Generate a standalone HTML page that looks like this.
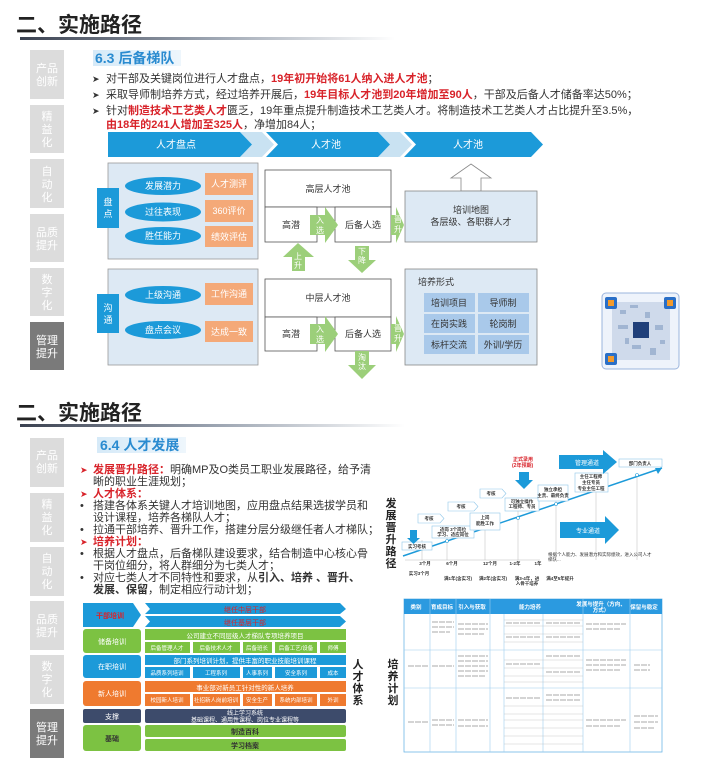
<!DOCTYPE html>
<html><head><meta charset="utf-8"><style>
html,body{margin:0;padding:0;background:#fff;}
svg{display:block;}
text{font-family:"Liberation Sans","Noto Sans CJK SC",sans-serif;}
</style></head><body>
<svg width="703" height="779" viewBox="0 0 703 779" xmlns="http://www.w3.org/2000/svg">
<defs>
<linearGradient id="ul" x1="0" x2="1"><stop offset="0" stop-color="#3a4150"/><stop offset="0.5" stop-color="#9aa3b0"/><stop offset="1" stop-color="#fff"/></linearGradient>
<linearGradient id="lb" x1="0" x2="1"><stop offset="0" stop-color="#d6eaf8"/><stop offset="1" stop-color="#eef6fc"/></linearGradient>
</defs>

<!-- ===== TOP PANEL ===== -->
<text x="16" y="32" font-size="21" font-weight="bold" fill="#222">二、实施路径</text>
<rect x="20" y="37" width="375" height="3" fill="url(#ul)"/>

<g font-size="11" fill="#fff" text-anchor="middle">
<rect x="30" y="50" width="34" height="49" fill="#dcdcdc"/><text x="47" y="72">产品</text><text x="47" y="85">创新</text>
<rect x="30" y="105" width="34" height="48" fill="#dcdcdc"/><text x="47" y="120">精</text><text x="47" y="133">益</text><text x="47" y="146">化</text>
<rect x="30" y="159" width="34" height="49" fill="#dcdcdc"/><text x="47" y="175">自</text><text x="47" y="188">动</text><text x="47" y="201">化</text>
<rect x="30" y="214" width="34" height="48" fill="#dcdcdc"/><text x="47" y="236">品质</text><text x="47" y="249">提升</text>
<rect x="30" y="268" width="34" height="48" fill="#dcdcdc"/><text x="47" y="283">数</text><text x="47" y="296">字</text><text x="47" y="309">化</text>
<rect x="30" y="322" width="34" height="48" fill="#7a7a7a"/><text x="47" y="344">管理</text><text x="47" y="357">提升</text>
</g>

<rect x="93" y="50" width="88" height="16" fill="url(#lb)"/>
<text x="95" y="63" font-size="14" font-weight="bold" fill="#2a8bd0">6.3 后备梯队</text>

<g font-size="11" fill="#333">
<text x="92" y="82" font-size="9">➤</text>
<text x="106" y="82">对干部及关键岗位进行人才盘点，<tspan fill="#d8232a" font-weight="bold">19年初开始将61人纳入进人才池</tspan>；</text>
<text x="92" y="98" font-size="9">➤</text>
<text x="106" y="98">采取导师制培养方式，经过培养开展后，<tspan fill="#d8232a" font-weight="bold">19年目标人才池到20年增加至90人</tspan>，干部及后备人才储备率达50%；</text>
<text x="92" y="114" font-size="9">➤</text>
<text x="106" y="114">针对<tspan fill="#d8232a" font-weight="bold">制造技术工艺类人才</tspan>匮乏，19年重点提升制造技术工艺类人才。将制造技术工艺类人才占比提升至3.5%，</text>
<text x="106" y="128"><tspan fill="#d8232a" font-weight="bold">由18年的241人增加至325人</tspan>，净增加84人；</text>
</g>

<!-- chevron bar -->
<polygon points="240,132 262,132 274,144.5 262,157 240,157 252,144.5" fill="#c9e2f2"/>
<polygon points="378,132 400,132 412,144.5 400,157 378,157 390,144.5" fill="#c9e2f2"/>
<polygon points="108,132 240,132 252,144.5 240,157 108,157" fill="#1c9ad9"/>
<polygon points="266,132 378,132 390,144.5 378,157 266,157 278,144.5" fill="#1c9ad9"/>
<polygon points="404,132 531,132 543,144.5 531,157 404,157 416,144.5" fill="#1c9ad9"/>
<g font-size="10" fill="#fff" text-anchor="middle"><text x="176" y="148">人才盘点</text><text x="326" y="148">人才池</text><text x="468" y="148">人才池</text></g>

<!-- left boxes -->
<rect x="108" y="163" width="150" height="96" fill="#dde9f4" stroke="#999" stroke-width="0.8"/>
<rect x="108" y="269" width="150" height="96" fill="#dde9f4" stroke="#999" stroke-width="0.8"/>
<rect x="97" y="188" width="22" height="40" fill="#1c9ad9"/>
<text x="108" y="205" font-size="9" fill="#fff" text-anchor="middle">盘</text><text x="108" y="217" font-size="9" fill="#fff" text-anchor="middle">点</text>
<rect x="97" y="294" width="22" height="39" fill="#1c9ad9"/>
<text x="108" y="311" font-size="9" fill="#fff" text-anchor="middle">沟</text><text x="108" y="323" font-size="9" fill="#fff" text-anchor="middle">通</text>
<g fill="#1c9ad9">
<ellipse cx="163" cy="186" rx="38" ry="9"/><ellipse cx="163" cy="212" rx="38" ry="9.5"/><ellipse cx="163" cy="236" rx="38" ry="9"/>
<ellipse cx="163" cy="295" rx="38" ry="9"/><ellipse cx="163" cy="330" rx="38" ry="9"/>
</g>
<g fill="#f4a978">
<rect x="205" y="173" width="48" height="22"/><rect x="205" y="200" width="48" height="22"/><rect x="205" y="226" width="48" height="21"/>
<rect x="205" y="283" width="48" height="22"/><rect x="205" y="321" width="48" height="21"/>
</g>
<g font-size="9" fill="#fff" text-anchor="middle">
<text x="163" y="189">发展潜力</text><text x="163" y="215">过往表现</text><text x="163" y="239">胜任能力</text>
<text x="163" y="298">上级沟通</text><text x="163" y="333">盘点会议</text>
<text x="229" y="187">人才测评</text><text x="229" y="214">360评价</text><text x="229" y="240">绩效评估</text>
<text x="229" y="297">工作沟通</text><text x="229" y="335">达成一致</text>
</g>

<!-- middle pools -->
<g fill="#fff" stroke="#555" stroke-width="0.8">
<rect x="265" y="170" width="126" height="37"/><rect x="265" y="207" width="52" height="35"/><rect x="335" y="207" width="56" height="35"/>
<rect x="265" y="279" width="126" height="38"/><rect x="265" y="317" width="52" height="34"/><rect x="335" y="317" width="56" height="34"/>
</g>
<g font-size="9" fill="#333" text-anchor="middle">
<text x="328" y="192">高层人才池</text><text x="291" y="228">高潜</text><text x="363" y="228">后备人选</text>
<text x="328" y="301">中层人才池</text><text x="291" y="337">高潜</text><text x="363" y="337">后备人选</text>
</g>
<g fill="#9ccf7a">
<polygon points="310,215 325,215 325,207 338,225 325,243 325,235 310,235"/>
<polygon points="391,215 396,215 396,207 404,225 396,243 396,235 391,235"/>
<polygon points="310,324 325,324 325,316 338,334 325,352 325,344 310,344"/>
<polygon points="391,324 396,324 396,316 404,334 396,352 396,344 391,344"/>
<polygon points="298,243 314,257 305,257 305,271 292,271 292,257 283,257"/>
<polygon points="355,246 369,246 369,260 376,260 362,273 348,260 355,260"/>
<polygon points="355,351 369,351 369,365 376,365 362,379 348,365 355,365"/>
</g>
<g font-size="8" fill="#fff" text-anchor="middle">
<text x="320" y="223">入</text><text x="320" y="233">选</text>
<text x="398" y="222">晋</text><text x="398" y="232">升</text>
<text x="320" y="332">入</text><text x="320" y="342">选</text>
<text x="398" y="331">晋</text><text x="398" y="341">升</text>
<text x="298" y="259">上</text><text x="298" y="268">升</text>
<text x="362" y="254">下</text><text x="362" y="263">降</text>
<text x="362" y="360">淘</text><text x="362" y="369">汰</text>
</g>

<!-- right boxes -->
<polygon points="471,164 491,178 481,178 481,191 461,191 461,178 451,178" fill="#fff" stroke="#888" stroke-width="0.8"/>
<rect x="405" y="191" width="132" height="51" fill="#dde9f4" stroke="#888" stroke-width="0.8"/>
<text x="471" y="213" font-size="9" fill="#333" text-anchor="middle">培训地图</text>
<text x="471" y="225" font-size="9" fill="#333" text-anchor="middle">各层级、各职群人才</text>
<rect x="405" y="269" width="132" height="96" fill="#dde9f4" stroke="#888" stroke-width="0.8"/>
<text x="418" y="285" font-size="9" fill="#333">培养形式</text>
<g fill="#a9c9ea">
<rect x="424" y="293" width="51" height="19"/><rect x="478" y="293" width="51" height="19"/>
<rect x="424" y="314" width="51" height="19"/><rect x="478" y="314" width="51" height="19"/>
<rect x="424" y="335" width="51" height="19"/><rect x="478" y="335" width="51" height="19"/>
</g>
<g font-size="9" fill="#333" text-anchor="middle">
<text x="449" y="306">培训项目</text><text x="503" y="306">导师制</text>
<text x="449" y="327">在岗实践</text><text x="503" y="327">轮岗制</text>
<text x="449" y="348">标杆交流</text><text x="503" y="348">外训/学历</text>
</g>

<!-- QR -->
<rect x="602" y="293" width="77" height="76" rx="4" fill="#eef3fb" stroke="#9bb4dd"/>
<g fill="#8fa6c8" opacity="0.8">
<rect x="612" y="302" width="58" height="58" fill="#c8d4e8"/>
<rect x="620" y="310" width="6" height="4"/><rect x="630" y="305" width="8" height="3"/><rect x="645" y="312" width="5" height="6"/>
<rect x="618" y="325" width="10" height="4"/><rect x="655" y="325" width="8" height="5"/><rect x="632" y="345" width="9" height="4"/>
<rect x="650" y="348" width="6" height="7"/><rect x="625" y="338" width="4" height="6"/><rect x="660" y="340" width="5" height="4"/>
</g>
<rect x="605" y="297" width="12" height="12" rx="2" fill="#2a6fc7"/><rect x="608" y="300" width="6" height="6" fill="#f39a2b"/>
<rect x="664" y="297" width="12" height="12" rx="2" fill="#2a6fc7"/><rect x="667" y="300" width="6" height="6" fill="#f39a2b"/>
<rect x="605" y="353" width="12" height="12" rx="2" fill="#2a6fc7"/><rect x="608" y="356" width="6" height="6" fill="#f39a2b"/>
<rect x="633" y="322" width="16" height="16" fill="#1f3f7a"/>

<!-- ===== BOTTOM PANEL ===== -->
<text x="16" y="420" font-size="21" font-weight="bold" fill="#222">二、实施路径</text>
<rect x="20" y="424" width="385" height="3" fill="url(#ul)"/>

<g font-size="11" fill="#fff" text-anchor="middle">
<rect x="30" y="438" width="34" height="49" fill="#dcdcdc"/><text x="47" y="459">产品</text><text x="47" y="472">创新</text>
<rect x="30" y="493" width="34" height="49" fill="#dcdcdc"/><text x="47" y="508">精</text><text x="47" y="521">益</text><text x="47" y="534">化</text>
<rect x="30" y="547" width="34" height="49" fill="#dcdcdc"/><text x="47" y="562">自</text><text x="47" y="575">动</text><text x="47" y="588">化</text>
<rect x="30" y="601" width="34" height="49" fill="#dcdcdc"/><text x="47" y="623">品质</text><text x="47" y="636">提升</text>
<rect x="30" y="655" width="34" height="49" fill="#dcdcdc"/><text x="47" y="670">数</text><text x="47" y="683">字</text><text x="47" y="696">化</text>
<rect x="30" y="709" width="34" height="49" fill="#7a7a7a"/><text x="47" y="731">管理</text><text x="47" y="744">提升</text>
</g>

<rect x="97" y="437" width="89" height="16" fill="url(#lb)"/>
<text x="100" y="450" font-size="14" font-weight="bold" fill="#2a8bd0">6.4 人才发展</text>

<g font-size="11" fill="#333">
<text x="80" y="473" font-size="9" fill="#d8232a">➤</text>
<text x="93" y="473"><tspan fill="#d8232a" font-weight="bold">发展晋升路径：</tspan>明确MP及O类员工职业发展路径，给予清</text>
<text x="93" y="485">晰的职业生涯规划；</text>
<text x="80" y="497" font-size="9" fill="#d8232a">➤</text>
<text x="93" y="497" fill="#d8232a" font-weight="bold">人才体系：</text>
<text x="80" y="509">•</text><text x="93" y="509">搭建各体系关键人才培训地图，应用盘点结果选拔学员和</text>
<text x="93" y="521">设计课程，培养各梯队人才；</text>
<text x="80" y="533">•</text><text x="93" y="533">拉通干部培养、晋升工作，搭建分层分级继任者人才梯队；</text>
<text x="80" y="545" font-size="9" fill="#d8232a">➤</text>
<text x="93" y="545" fill="#d8232a" font-weight="bold">培养计划：</text>
<text x="80" y="557">•</text><text x="93" y="557">根据人才盘点，后备梯队建设要求，结合制造中心核心骨</text>
<text x="93" y="569">干岗位细分，将人群细分为七类人才；</text>
<text x="80" y="581">•</text><text x="93" y="581">对应七类人才不同特性和要求，从<tspan font-weight="bold">引入、培养 、晋升、</tspan></text>
<text x="93" y="593"><tspan font-weight="bold">发展、保留</tspan>，制定相应行动计划；</text>
</g>

<!-- left talent system table -->
<polygon points="83,603 133,603 141,615 133,627 83,627" fill="#1c9ad9"/>
<text x="110" y="618" font-size="7" fill="#d8232a" text-anchor="middle" font-weight="bold">干部培训</text>
<polygon points="145,603 340,603 346,609 340,614 145,614 150,609" fill="#1c9ad9"/>
<polygon points="145,616 340,616 346,621.5 340,627 145,627 150,621.5" fill="#1c9ad9"/>
<text x="245" y="612" font-size="7" fill="#d8232a" text-anchor="middle">继任中层干部</text>
<text x="245" y="625" font-size="7" fill="#d8232a" text-anchor="middle">继任基层干部</text>

<rect x="83" y="629" width="58" height="24" rx="3" fill="#7cc242"/>
<text x="112" y="644" font-size="7" fill="#fff" text-anchor="middle">储备培训</text>
<rect x="145" y="629" width="201" height="11" fill="#7cc242"/>
<text x="245" y="638" font-size="6.5" fill="#fff" text-anchor="middle">公司建立不同层级人才梯队专项培养项目</text>
<g fill="#7cc242"><rect x="145" y="642" width="45" height="11"/><rect x="193" y="642" width="47" height="11"/><rect x="243" y="642" width="29" height="11"/><rect x="275" y="642" width="42" height="11"/><rect x="320" y="642" width="26" height="11"/></g>
<g font-size="5.5" fill="#fff" text-anchor="middle"><text x="167" y="650">后备管理人才</text><text x="216" y="650">后备技术人才</text><text x="257" y="650">后备班长</text><text x="296" y="650">后备工艺/设备</text><text x="333" y="650">师傅</text></g>

<rect x="83" y="655" width="58" height="23" rx="3" fill="#1c9ad9"/>
<text x="112" y="669" font-size="7" fill="#fff" text-anchor="middle">在职培训</text>
<rect x="145" y="655" width="201" height="10" fill="#1c9ad9"/>
<text x="245" y="663" font-size="6.5" fill="#fff" text-anchor="middle">部门系列培训计划，提供丰富的职业技能培训课程</text>
<g fill="#1c9ad9"><rect x="145" y="667" width="45" height="11"/><rect x="193" y="667" width="47" height="11"/><rect x="243" y="667" width="29" height="11"/><rect x="275" y="667" width="42" height="11"/><rect x="320" y="667" width="26" height="11"/></g>
<g font-size="5.5" fill="#fff" text-anchor="middle"><text x="167" y="675">品质系列培训</text><text x="216" y="675">工程系列</text><text x="257" y="675">人事系列</text><text x="296" y="675">安全系列</text><text x="333" y="675">成本</text></g>

<rect x="83" y="681" width="58" height="25" rx="3" fill="#ef7a2f"/>
<text x="112" y="696" font-size="7" fill="#fff" text-anchor="middle">新人培训</text>
<rect x="145" y="681" width="201" height="11" fill="#ef7a2f"/>
<text x="245" y="690" font-size="6.5" fill="#fff" text-anchor="middle">事业部对新员工针对性的新人培养</text>
<g fill="#ef7a2f"><rect x="145" y="694" width="45" height="12"/><rect x="193" y="694" width="47" height="12"/><rect x="243" y="694" width="29" height="12"/><rect x="275" y="694" width="42" height="12"/><rect x="320" y="694" width="26" height="12"/></g>
<g font-size="5.5" fill="#fff" text-anchor="middle"><text x="167" y="702">校园新人培训</text><text x="216" y="702">社招新人岗前培训</text><text x="257" y="702">安全生产</text><text x="296" y="702">系统内部培训</text><text x="333" y="702">外训</text></g>

<rect x="83" y="709" width="58" height="14" rx="2" fill="#3d4b6b"/>
<text x="112" y="719" font-size="7" fill="#fff" text-anchor="middle">支撑</text>
<rect x="145" y="709" width="201" height="14" rx="2" fill="#3d4b6b"/>
<text x="245" y="715" font-size="6" fill="#fff" text-anchor="middle">线上学习系统</text>
<text x="245" y="722" font-size="6" fill="#fff" text-anchor="middle">基础课程、通用性课程、岗位专业课程等</text>

<rect x="83" y="725" width="58" height="26" rx="3" fill="#7cc242"/>
<text x="112" y="741" font-size="7" fill="#333" text-anchor="middle" font-weight="bold">基础</text>
<rect x="145" y="725" width="201" height="12" rx="2" fill="#7cc242"/>
<rect x="145" y="739" width="201" height="12" rx="2" fill="#7cc242"/>
<text x="245" y="734" font-size="7" fill="#333" text-anchor="middle" font-weight="bold">制造百科</text>
<text x="245" y="748" font-size="7" fill="#333" text-anchor="middle" font-weight="bold">学习档案</text>

<g font-size="11" font-weight="bold" fill="#222" text-anchor="middle">
<text x="358" y="668">人</text><text x="358" y="680">才</text><text x="358" y="692">体</text><text x="358" y="704">系</text>
<text x="391" y="507">发</text><text x="391" y="519">展</text><text x="391" y="531">晋</text><text x="391" y="543">升</text><text x="391" y="555">路</text><text x="391" y="567">径</text>
<text x="393" y="668">培</text><text x="393" y="680">养</text><text x="393" y="692">计</text><text x="393" y="704">划</text>
</g>

<!-- career path chart -->
<g stroke="#bbb" stroke-width="0.5">
<line x1="422" y1="540" x2="422" y2="560"/><line x1="447" y1="530" x2="447" y2="560"/><line x1="485" y1="512" x2="485" y2="560"/>
<line x1="518" y1="500" x2="518" y2="560"/><line x1="556" y1="486" x2="556" y2="560"/><line x1="596" y1="480" x2="596" y2="560"/><line x1="637" y1="477" x2="637" y2="560"/>
<line x1="405" y1="560" x2="540" y2="560"/>
</g>
<line x1="403" y1="556" x2="662" y2="468" stroke="#1c9ad9" stroke-width="1.5"/>
<polygon points="662,468 655,468 658,474" fill="#1c9ad9"/>
<g fill="#fff" stroke="#1c9ad9" stroke-width="0.6">
<circle cx="447" cy="541" r="1.5"/><circle cx="485" cy="528" r="1.5"/><circle cx="518" cy="518" r="1.5"/><circle cx="556" cy="504" r="1.5"/><circle cx="596" cy="489" r="1.5"/><circle cx="637" cy="475" r="1.5"/>
</g>
<g fill="#fff" stroke="#8fc7ea" stroke-width="0.6">
<rect x="402" y="542" width="30" height="8"/>
<polygon points="418,514 440,514 444,518.5 440,523 418,523"/>
<polygon points="448,502 474,502 478,506.5 474,511 448,511"/>
<polygon points="480,489 502,489 506,493.5 502,498 480,498"/>
<rect x="432" y="526" width="42" height="12"/>
<rect x="470" y="513" width="30" height="17"/>
<rect x="505" y="498" width="34" height="13"/>
<rect x="538" y="485" width="30" height="16"/>
<rect x="575" y="473" width="33" height="19"/>
<rect x="619" y="459" width="43" height="8"/>
</g>
<g font-size="4.5" fill="#333" text-anchor="middle" font-weight="bold">
<text x="417" y="548">实习考核</text><text x="429" y="520">考核</text><text x="461" y="508">考核</text><text x="491" y="495">考核</text>
<text x="453" y="531">适岗 3个岗位</text><text x="453" y="536">学习、适应岗位</text>
<text x="485" y="519">上岗</text><text x="485" y="525">能胜工作</text>
<text x="522" y="503">可独立操作</text><text x="522" y="508">工程师、专员</text>
<text x="553" y="491">独立承担</text><text x="553" y="497">主责、最终负责</text>
<text x="591" y="478">主任工程师</text><text x="591" y="484">主任专员</text><text x="591" y="490">专业主任工程</text>
<text x="640" y="465">部门负责人</text>
</g>
<polygon points="410,530 417,530 417,538 420,538 413.5,544 407,538 410,538" fill="#1c9ad9"/>
<text x="513" y="461" font-size="5" fill="#d8232a" font-weight="bold">正式录用</text>
<text x="512" y="467" font-size="5" fill="#d8232a" font-weight="bold">(2年预期)</text>
<polygon points="519,472 529,472 529,480 533,480 524,489 515,480 519,480" fill="#1c9ad9"/>
<polygon points="559,455 603,455 603,450 617,462 603,474 603,469 559,469" fill="#1c9ad9"/>
<text x="587" y="465" font-size="6" fill="#fff" text-anchor="middle">管理通道</text>
<polygon points="560,522 605,522 605,516 619,530 605,544 605,538 560,538" fill="#1c9ad9"/>
<text x="588" y="533" font-size="6" fill="#fff" text-anchor="middle">专业通道</text>
<text x="548" y="556" font-size="4.5" fill="#333">根据个人能力、发展潜力和实际绩效，进入公司人才</text>
<text x="548" y="561" font-size="4.5" fill="#333">梯队...</text>
<g font-size="4.5" fill="#333" font-weight="bold" text-anchor="middle">
<text x="425" y="565">3个月</text><text x="452" y="565">6个月</text><text x="490" y="565">12个月</text><text x="515" y="565">1-2年</text><text x="538" y="565">1年</text>
<text x="419" y="575">实习3个月</text><text x="458" y="580">满1年(含实习)</text><text x="493" y="580">满2年(含实习)</text><text x="527" y="580">满3-4年，进</text><text x="527" y="585">入骨干培养</text><text x="560" y="580">满4至5年提升</text>
</g>

<!-- training plan table -->
<rect x="404" y="599" width="258" height="153" fill="#fff" stroke="#6fb6e6" stroke-width="0.8"/>
<rect x="404" y="599" width="258" height="15" fill="#2b9ae0"/>
<g font-size="5.5" fill="#fff" text-anchor="middle" font-weight="bold">
<text x="416" y="609">类别</text><text x="442" y="609">育成目标</text><text x="472" y="609">引入与获取</text><text x="530" y="609">能力培养</text><text x="601" y="606">发展与提升（方向、</text><text x="601" y="612">方式）</text><text x="644" y="609">保留与稳定</text>
</g>
<g stroke="#9ccdee" stroke-width="0.6">
<line x1="430" y1="599" x2="430" y2="752"/><line x1="456" y1="599" x2="456" y2="752"/><line x1="490" y1="599" x2="490" y2="752"/>
<line x1="504" y1="614" x2="504" y2="752"/><line x1="543" y1="614" x2="543" y2="752"/><line x1="583" y1="599" x2="583" y2="752"/><line x1="630" y1="599" x2="630" y2="752"/>
<line x1="404" y1="650" x2="662" y2="650"/><line x1="404" y1="688" x2="662" y2="688"/>
</g>
<g stroke="#bbb" stroke-width="0.4">
<line x1="504" y1="620" x2="583" y2="620"/><line x1="504" y1="626" x2="583" y2="626"/><line x1="504" y1="634" x2="583" y2="634"/><line x1="504" y1="642" x2="583" y2="642"/>
<line x1="504" y1="660" x2="583" y2="660"/><line x1="504" y1="668" x2="583" y2="668"/><line x1="504" y1="676" x2="583" y2="676"/><line x1="504" y1="682" x2="583" y2="682"/>
<line x1="504" y1="706" x2="583" y2="706"/><line x1="504" y1="714" x2="583" y2="714"/><line x1="504" y1="720" x2="583" y2="720"/><line x1="504" y1="728" x2="583" y2="728"/><line x1="504" y1="736" x2="583" y2="736"/><line x1="504" y1="744" x2="583" y2="744"/>
</g>
<g stroke="#aaa" stroke-width="1" stroke-dasharray="6 1">
<line x1="432" y1="622" x2="454" y2="622"/><line x1="432" y1="627" x2="454" y2="627"/><line x1="432" y1="632" x2="450" y2="632"/>
<line x1="458" y1="624" x2="488" y2="624"/><line x1="458" y1="629" x2="488" y2="629"/><line x1="458" y1="634" x2="484" y2="634"/>
<line x1="506" y1="623" x2="540" y2="623"/><line x1="546" y1="623" x2="580" y2="623"/><line x1="506" y1="637" x2="540" y2="637"/><line x1="546" y1="637" x2="580" y2="637"/>
<line x1="586" y1="624" x2="626" y2="624"/><line x1="586" y1="629" x2="620" y2="629"/>
<line x1="458" y1="656" x2="488" y2="656"/><line x1="458" y1="661" x2="488" y2="661"/><line x1="458" y1="666" x2="488" y2="666"/><line x1="458" y1="671" x2="488" y2="671"/><line x1="458" y1="676" x2="486" y2="676"/>
<line x1="432" y1="666" x2="454" y2="666"/><line x1="408" y1="666" x2="428" y2="666"/>
<line x1="506" y1="664" x2="540" y2="664"/><line x1="546" y1="656" x2="580" y2="656"/><line x1="546" y1="672" x2="580" y2="672"/>
<line x1="586" y1="660" x2="626" y2="660"/><line x1="586" y1="665" x2="626" y2="665"/><line x1="586" y1="670" x2="620" y2="670"/>
<line x1="634" y1="665" x2="650" y2="665"/><line x1="634" y1="670" x2="650" y2="670"/>
<line x1="408" y1="722" x2="428" y2="722"/><line x1="432" y1="720" x2="454" y2="720"/><line x1="432" y1="725" x2="454" y2="725"/>
<line x1="458" y1="720" x2="488" y2="720"/><line x1="458" y1="726" x2="488" y2="726"/>
<line x1="506" y1="698" x2="540" y2="698"/><line x1="546" y1="695" x2="580" y2="695"/><line x1="546" y1="700" x2="580" y2="700"/>
<line x1="586" y1="720" x2="626" y2="720"/><line x1="586" y1="726" x2="620" y2="726"/>
<line x1="634" y1="716" x2="658" y2="716"/><line x1="634" y1="722" x2="658" y2="722"/><line x1="634" y1="728" x2="655" y2="728"/>
</g>
</svg>
</body></html>
